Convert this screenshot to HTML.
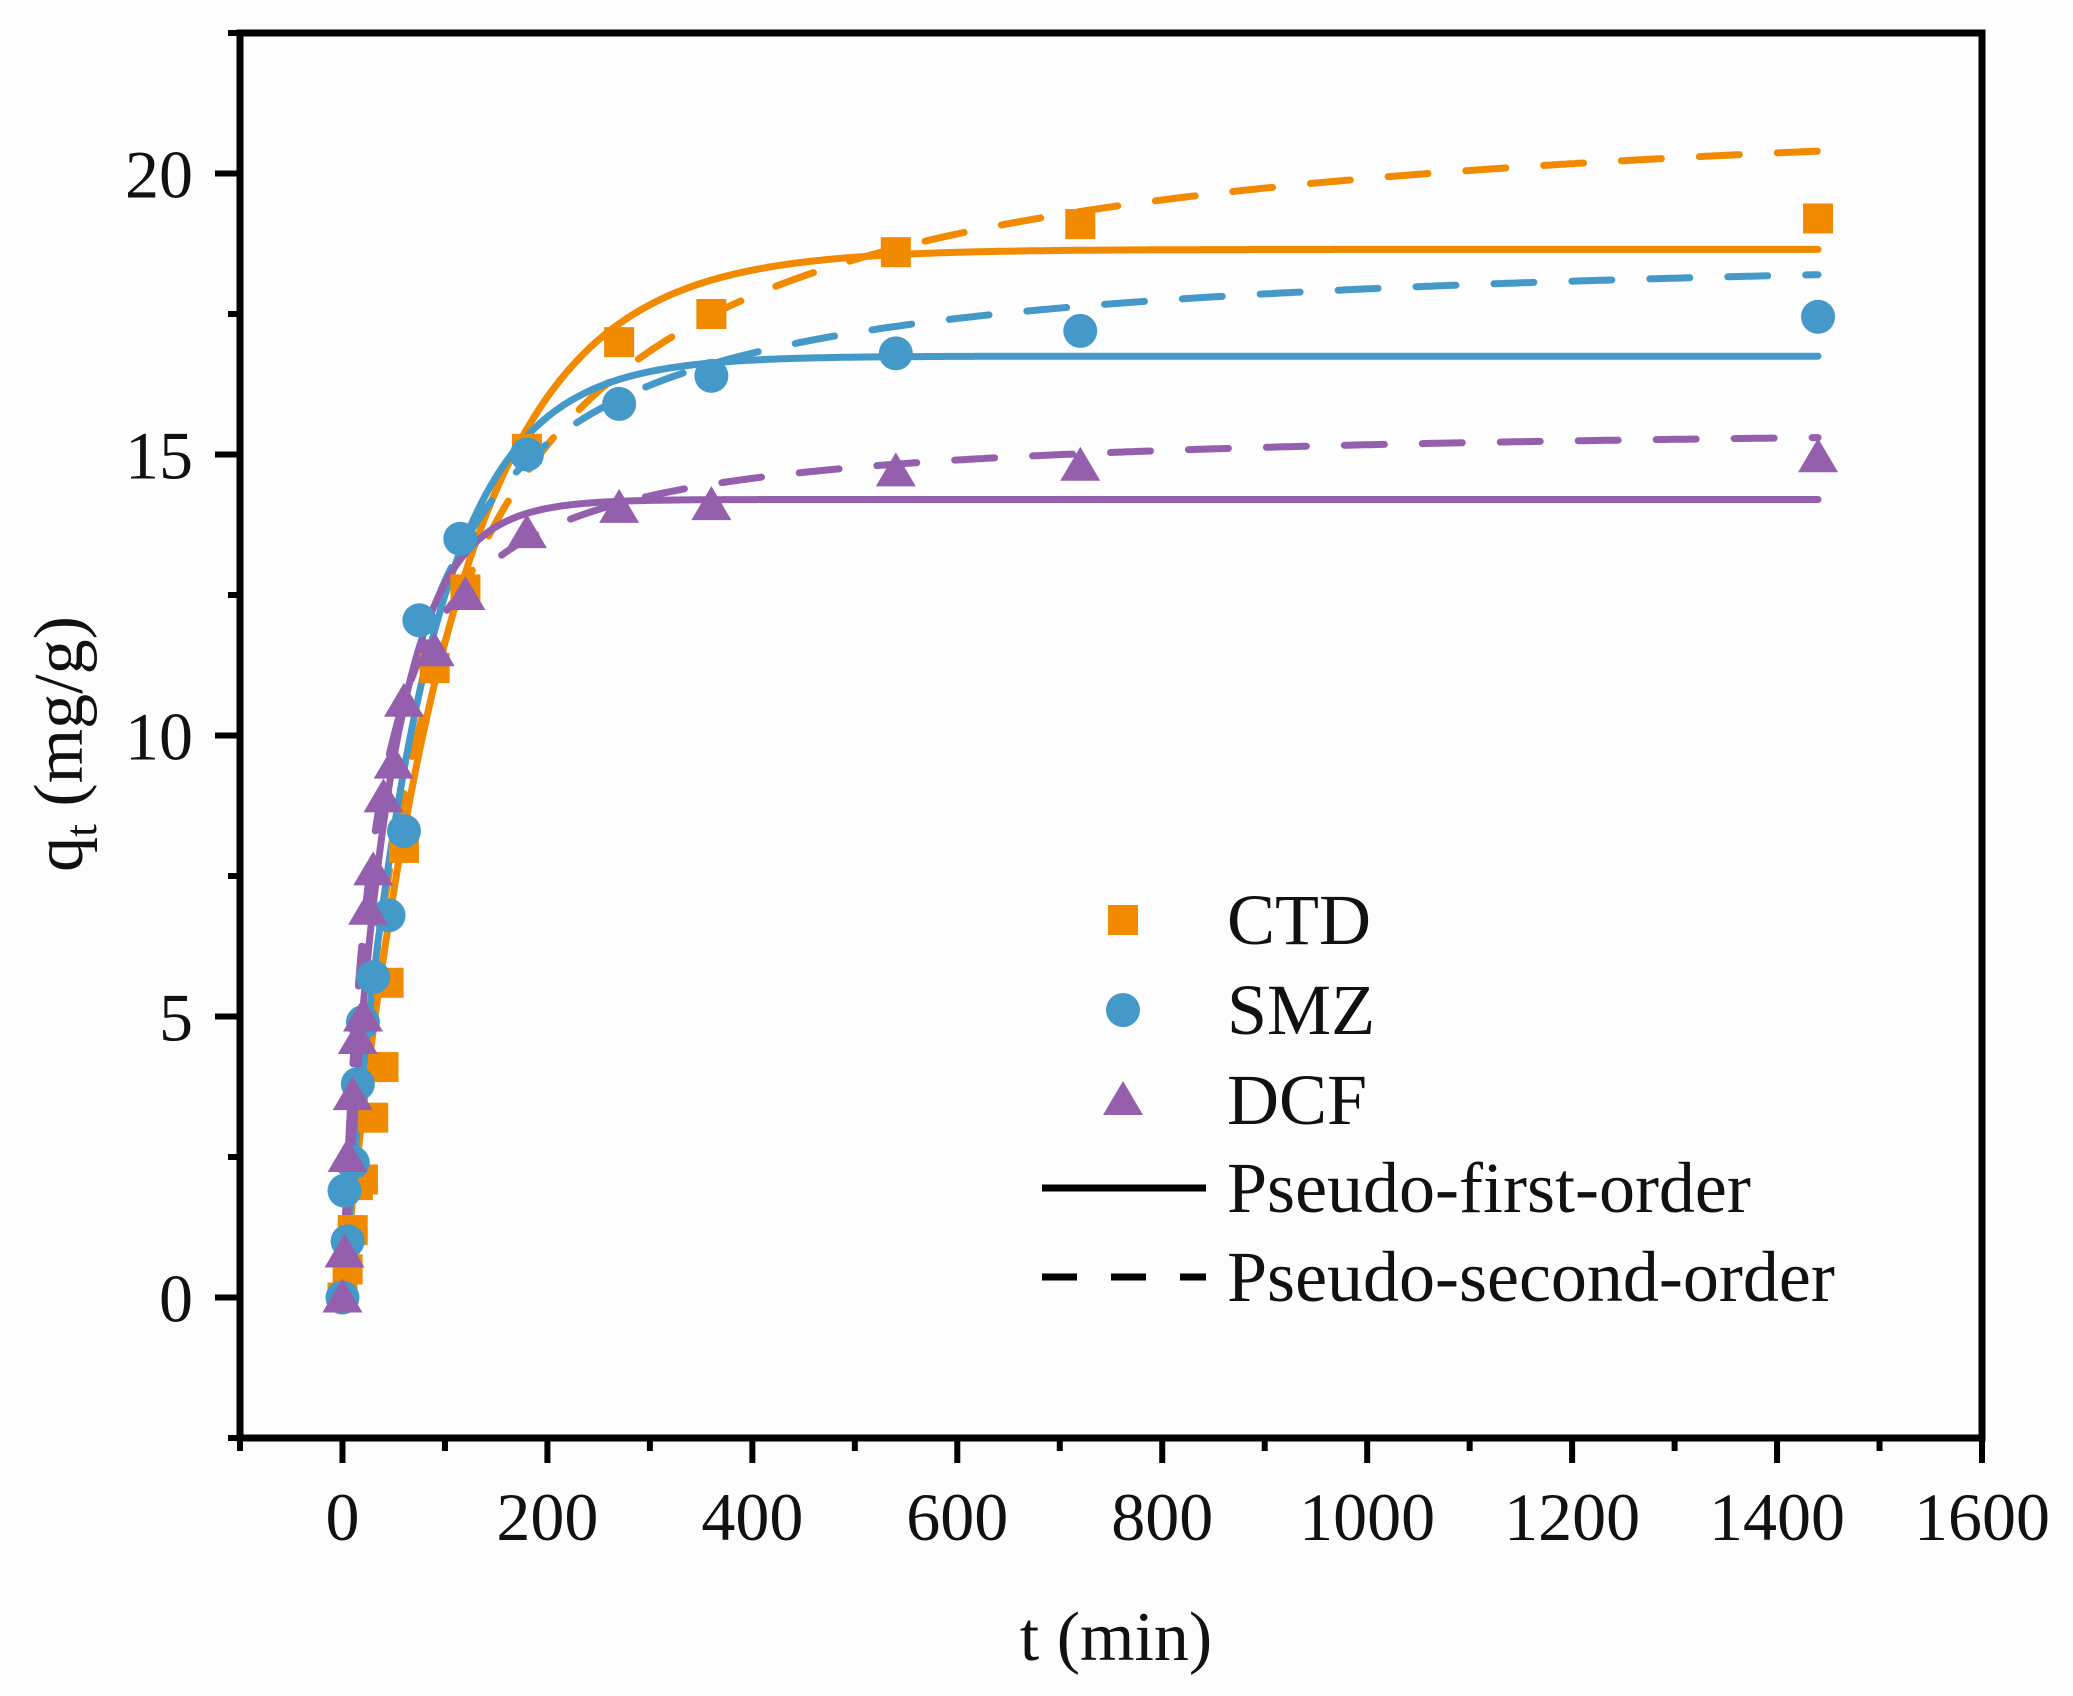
<!DOCTYPE html>
<html><head><meta charset="utf-8"><style>
html,body{margin:0;padding:0;background:#fdfdfd;}
svg{display:block;}
text{font-family:"Liberation Serif",serif;fill:#111;}
</style></head><body>
<svg id="chart" width="2073" height="1696" viewBox="0 0 2073 1696">
<g id="plot"></g>
</svg>
<script>
const ctdT=[0,5,10,15,20,30,40,45,60,90,120,180,270,360,540,720,1440];
const ctdQ=[0,0.5,1.2,2.0,2.1,3.2,4.1,5.6,8.0,11.2,12.6,15.1,17.0,17.5,18.6,19.1,19.2];
const smzT=[0,2,5,10,15,20,30,45,60,75,115,180,270,360,540,720,1440];
const smzQ=[0,1.9,1.0,2.4,3.8,4.9,5.7,6.8,8.3,12.05,13.5,15.0,15.9,16.4,16.8,17.2,17.45];
const dcfT=[0,2,5,10,15,20,25,30,40,50,60,90,120,180,270,360,540,720,1440];
const dcfQ=[0,0.8,2.5,3.6,4.6,5.0,6.9,7.6,8.9,9.5,10.6,11.5,12.5,13.6,14.05,14.1,14.7,14.8,14.95];
const pfoQe=[18.65,16.75,14.2];
const pfoK=[0.0098,0.0137,0.0225];
const psoQe=[21.6,18.8,15.6];
const psoK=[0.000546,0.00112,0.00228];
const seriesNames=["CTD","SMZ","DCF"];
const xTicks=[0,200,400,600,800,1000,1200,1400,1600];
const yTicks=[0,5,10,15,20];

const colors=["#F28A00","#4499C9","#9460AE"];
const X0=240,X1=1982,Y0=33,Y1=1438;
const xmin=-100,xmax=1600,ymin=-2.5,ymax=22.5;
function sx(v){return X0+(v-xmin)/(xmax-xmin)*(X1-X0);}
function sy(v){return Y1-(v-ymin)/(ymax-ymin)*(Y1-Y0);}
const NS="http://www.w3.org/2000/svg";
const plot=document.getElementById('plot');
function mk(tag,attrs,parent){const e=document.createElementNS(NS,tag);for(const k in attrs)e.setAttribute(k,attrs[k]);(parent||plot).appendChild(e);return e;}

for(let s=0;s<3;s++){
  let d1="",d2="";
  for(let t=0;t<=1440;t+=2){
    const q1=pfoQe[s]*(1-Math.exp(-pfoK[s]*t));
    const h=psoK[s]*psoQe[s];
    const q2=psoQe[s]*h*t/(1+h*t);
    d1+=(t?"L":"M")+sx(t).toFixed(1)+","+sy(q1).toFixed(1);
    d2+=(t?"L":"M")+sx(t).toFixed(1)+","+sy(q2).toFixed(1);
  }
  const p1=mk('path',{d:d1,fill:'none',stroke:colors[s],'stroke-width':7,'stroke-linecap':'round'});
  
  
  const p2=mk('path',{d:d2,fill:'none',stroke:colors[s],'stroke-width':7,'stroke-dasharray':'40 38','stroke-linecap':'round'});
  
  
}
function marker(type,cx,cy,c){
  if(type===0) return mk('rect',{x:cx-15,y:cy-15,width:30,height:30,fill:c});
  if(type===1) return mk('circle',{cx:cx,cy:cy,r:17,fill:c});
  return mk('polygon',{points:`${cx},${cy-19} ${cx+20},${cy+15} ${cx-20},${cy+15}`,fill:c});
}
const Ts=[ctdT,smzT,dcfT],Qs=[ctdQ,smzQ,dcfQ];
for(let s=0;s<3;s++){
  for(let i=0;i<Ts[s].length;i++){
    const m=marker(s,sx(Ts[s][i]),sy(Qs[s][i]),colors[s]);
    
    
  }
}
const fr=mk('rect',{x:X0,y:Y0,width:X1-X0,height:Y1-Y0,fill:'none',stroke:'#000','stroke-width':7});


for(let v=-100;v<=1600;v+=100){
  const major=xTicks.indexOf(v)>=0;
  const t=mk('line',{x1:sx(v),x2:sx(v),y1:Y1,y2:Y1+(major?25:13),stroke:'#000','stroke-width':6});
  
  
}
for(const v of xTicks){
  const t=mk('text',{x:sx(v),y:1540,'text-anchor':'middle','font-size':68});
  t.textContent=v;
  
  
}
for(let v=-2.5;v<=22.5;v+=2.5){
  const major=yTicks.indexOf(v)>=0;
  const t=mk('line',{x1:X0,x2:X0-(major?25:12),y1:sy(v),y2:sy(v),stroke:'#000','stroke-width':6});
  
  
}
for(const v of yTicks){
  const t=mk('text',{x:193,y:sy(v)+24,'text-anchor':'end','font-size':68});
  t.textContent=v;
  
  
}
const xt=mk('text',{x:1116,y:1660,'text-anchor':'middle','font-size':70});
xt.textContent='t (min)';


const yt=mk('text',{x:0,y:0,'text-anchor':'middle','font-size':70,transform:'translate(82,744) rotate(-90)'});
yt.innerHTML='q<tspan font-size="46" dy="14">t</tspan><tspan dy="-14"> (mg/g)</tspan>';


const lg=mk('g',{});


const ly=[920,1010,1100];
for(let s=0;s<3;s++){
  const m=marker(s,1123,ly[s],colors[s]);lg.appendChild(m);
  
  
  const t=mk('text',{x:1227,y:ly[s]+24,'font-size':72},lg);t.textContent=seriesNames[s];
  
  
}
const l1=mk('line',{x1:1042,x2:1206,y1:1188,y2:1188,stroke:'#000','stroke-width':7},lg);


const t1=mk('text',{x:1227,y:1212,'font-size':72},lg);t1.textContent='Pseudo-first-order';


const l2=mk('line',{x1:1042,x2:1206,y1:1277,y2:1277,stroke:'#000','stroke-width':7,'stroke-dasharray':'35 34'},lg);


const t2=mk('text',{x:1227,y:1301,'font-size':72},lg);t2.textContent='Pseudo-second-order';


</script>
</body></html>
